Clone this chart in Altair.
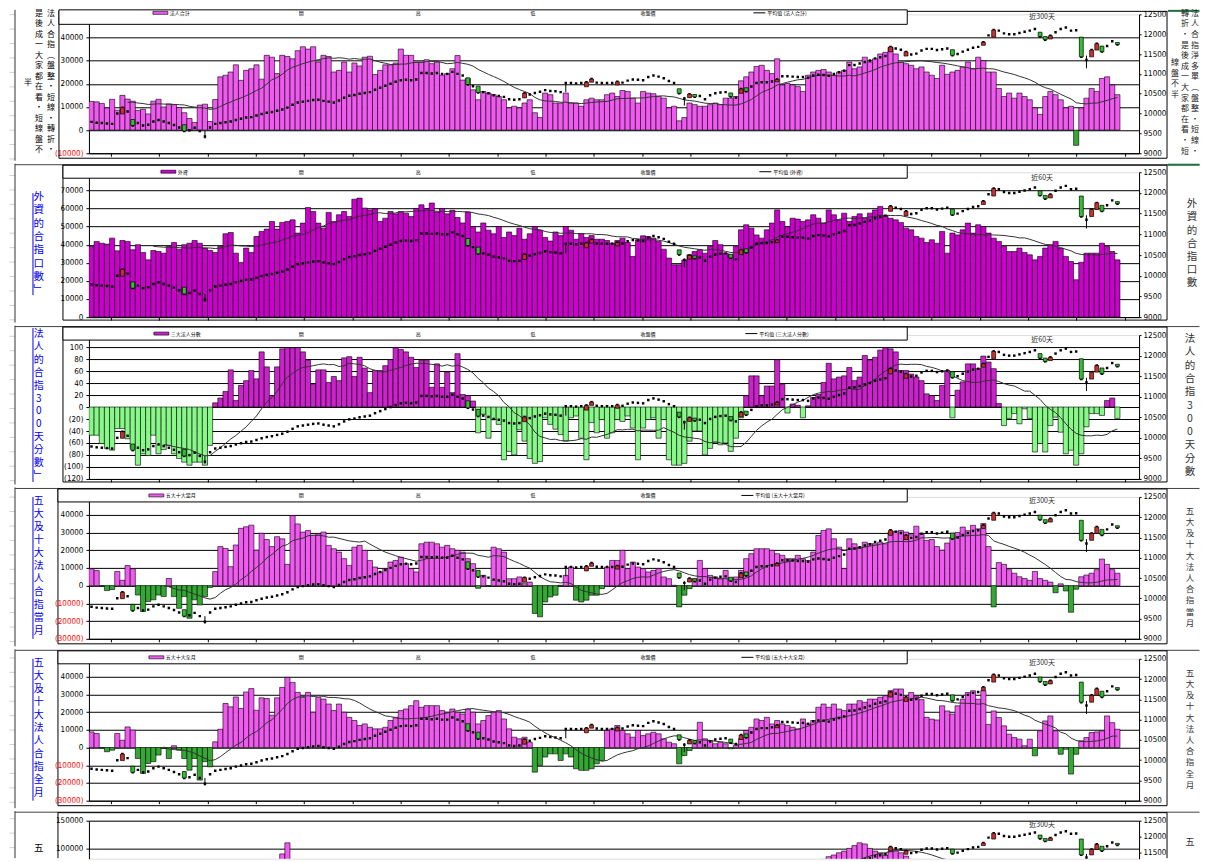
import altair as alt
import pandas as pd

N = 200
idx = list(range(N))

# ---- index candles (right axis, same in every panel) ----
index_close = [
    9790, 9770, 9760, 9750, 9740, 10000, 10150, 10050, 9700, 9760,
    9700, 9720, 9800, 9840, 9800, 9760, 9710, 9650, 9560, 9580,
    9640, 9560, 9420, 9650, 9740, 9760, 9780, 9800, 9840, 9870,
    9900, 9910, 9950, 9990, 10020, 10040, 10070, 10100, 10150, 10220,
    10280, 10300, 10320, 10340, 10350, 10320, 10300, 10280, 10330, 10400,
    10450, 10470, 10500, 10520, 10540, 10600, 10650, 10700, 10750, 10800,
    10840, 10850, 10840, 10860, 11020, 11020, 11010, 11020, 11000, 11000,
    11050, 11000, 10960, 10730, 10690, 10530, 10540, 10510, 10460, 10440,
    10420, 10360, 10350, 10360, 10510, 10480, 10520, 10550, 10590, 10570,
    10560, 10540, 10770, 10770, 10760, 10770, 10790, 10870, 10780, 10770,
    10770, 10770, 10800, 10780, 10830, 10860, 10850, 10840, 10920, 10960,
    10930, 10890, 10820, 10770, 10510, 10380, 10490, 10420, 10440, 10360,
    10460, 10510, 10530, 10540, 10430, 10400, 10620, 10560, 10680, 10770,
    10790, 10790, 10810, 10860, 10940, 10940, 10930, 10920, 10920, 10900,
    10960, 10980, 10970, 10950, 11000, 11040, 11080, 11220, 11226, 11260,
    11300, 11335, 11390, 11420, 11450, 11680, 11640, 11610, 11555, 11490,
    11510, 11590, 11630, 11630, 11600, 11620, 11640, 11470, 11500, 11560,
    11610, 11660, 11680, 11800, 11970, 12105, 12090, 12020, 12000, 12000,
    12030, 12060, 12090, 12130, 11940, 11860, 11960, 12050, 12130, 12170,
    12090, 12100, 11430, 11350, 11600, 11760, 11560, 11700, 11820, 11740,
]
big_idx = [6, 8, 18, 73, 75, 84, 96, 97, 102, 114, 116, 117, 124, 126, 127, 133,
           155, 158, 167, 173, 175, 184, 185, 186, 192, 194, 195, 196, 199]
big_open = [9990, 9850, 9720, 10900, 10690, 10395, 10675, 10790, 10720, 10625, 10400,
            10480, 10520, 10510, 10650, 10800, 11555, 11450, 11610, 11720, 11925, 12050,
            11940, 11880, 11925, 11430, 11600, 11700, 11790]
wick_idx = [22, 92, 115, 193]
wick_low = [9370, 10540, 10200, 11140]
wick_high = [9560, 10780, 10420, 11460]

# ---- panel bar series ----
p1 = [
    12400, 12200, 11500, 9600, 13300, 8600, 15000, 13400, 12500, 8500,
    9000, 7000, 12500, 13300, 10000, 11300, 11000, 9800, 7500, 5000,
    3300, 10800, 11200, 3700, 13200, 23000, 23700, 25100, 28200, 21500,
    25800, 26500, 28200, 22000, 32300, 31500, 24400, 32300, 31800, 30800,
    34300, 36000, 35000, 36000, 29400, 32300, 31800, 25100, 25800, 29400,
    25100, 29000, 27700, 31500, 31900, 24000, 25800, 28200, 28200, 29000,
    35000, 32300, 32300, 29400,
    29400, 30400, 28700, 29400, 23700, 24400, 26500, 32200, 21600, 22300,
    17400, 13100, 16700, 16000, 15300, 14500, 13100, 9600, 10300, 9600,
    11700, 13100, 7500, 5400, 16000, 15300, 11700, 11700, 16000, 11700,
    11700, 10300, 13100, 13800, 13100, 13100, 15300, 16000, 14500, 17100,
    16700, 13800, 11700, 16700, 16000, 15700, 14500, 13800, 9600, 10300,
    4000, 5400, 11700, 11000, 10300, 10300, 11000, 11700, 11000, 13800,
    13800, 14500, 21300, 23000, 25100, 27500, 28000, 25800, 24400, 30800,
    19500, 20200, 19500, 18800, 16700, 23700, 25100, 25800,
    26200, 25100, 23700, 25100, 25800, 29400, 26500, 27300, 31500, 29400,
    30800, 32900, 33600, 35700, 32900, 29400, 28700, 28000, 26500, 27300,
    25100, 23700, 22300, 28000, 24100, 25100, 25800, 27300, 29400, 26500,
    31500, 30000, 25100, 25100, 18000, 14500, 16000, 13800, 16000, 14500,
    13100, 9600, 6800, 14500, 16700, 15300, 13100, 9600, 10300, -6600,
    9600, 13800, 18000, 16700, 22300, 23000, 19500, 15300,
]
p2 = [
    39000, 41800, 40800, 40300, 43600, 36600, 42300, 41800, 37200, 40000,
    35700, 31600, 36800, 36200, 35300, 39000, 41200, 37500, 40000, 40800,
    42300, 40800, 38100, 36800, 35700, 39000, 46000, 46700, 35300, 30200,
    38100, 35700, 44500, 47300, 48600, 52800, 48600, 52300, 52800, 53700,
    46400, 51900, 60500, 58300, 51900, 49100, 57800, 52800, 56500, 58300,
    55600, 65100, 65700, 60200, 59200, 59800, 52800, 54600, 58300, 57000,
    58300, 57400, 55600, 60000,
    62000, 60000, 63000, 58000, 60000, 57000, 59000, 55000, 52000, 58000,
    50000, 47000, 52000, 48000, 46000, 50000, 44000, 47000, 45000, 49000,
    43000, 46000, 50000, 48000, 44000, 42000, 47000, 45000, 50000, 48000,
    43000, 46000, 44000, 45000, 43000,
    43000, 42300, 40800, 42300, 43600, 41200, 33500, 42700, 44900,
    44500, 43600, 41800, 37500, 32600, 28900, 28900, 31600, 34400, 36200,
    37200, 35300, 39000, 42300, 40000, 35300, 34400, 39000, 48200, 51000,
    49100, 45400, 43600, 48200, 51900, 59200, 52800, 50000, 54600, 54100,
    52800, 53700, 56500, 54600, 51900, 59200, 56500, 53700, 57400, 52800,
    55600, 57000, 54600, 57400, 59200, 61100, 56000, 54600, 53700,
    52300, 49100, 48200, 44500, 43600, 41200, 42700, 40800, 47300, 35300,
    46400, 45400, 48200, 51900, 46400, 51000, 50000, 46400, 43600, 41800,
    39000, 36200, 36200, 38100, 35700, 34400, 31600, 33500, 38100, 40000,
    41800, 38100, 33500, 30700, 20600, 30300, 35300, 35300, 35300,
    40800, 39000, 36200, 31600,
]
p3 = [
    -47, -47, -61, -69, -72, -36, -36, -53, -69, -97, -78, -81, -47, -78, -71, -64,
    -78, -86, -92, -97, -92, -92, -97, -64,
    7, 15, 26, 62, 11, 36, 44, 61, 47, 92, 67, 19, 67,
    97, 99, 99, 99, 92, 78, 38, 62, 62, 41, 51, 44, 82, 84, 51, 83, 65, 24, 61, 61,
    69, 79, 99, 96, 92, 83, 66, 78, 78, 33, 72, 33, 58, 24, 89, 21, 19, 10,
    -43, -12, -52, -21, -29, -88, -74, -80, -38, -57, -86, -94, -91, -18, -29, -37,
    -46, -57, -18, -15, -52, -88, -26, -43, -21, -52, -43, -21, -24, -15, -35, -88,
    -35, -21, -18, -52, -21, -88, -97, -97, -94, -57, -40, -40, -80, -69, -60, -63,
    -60, -74, -52, -18,
    19, 52, 52, 19, 35, 35, 79, 38,
    -10, 5, 3, -18, 2,
    16, 21, 41, 73, 47, 50, 52, 66, 44, 50, 86, 78, 83, 95, 99, 97, 92, 61, 61, 55, 50, 44,
    22, 19, 11, 36, 61, -18, 28, 42, 72, 72, 64, 85, 75, 64, 6, -31, -19, -11, -28, -3,
    -19, -75, -61, -75, -31, -17, -42, -78, -72, -97, -78, -33, -11, -11, -14, 11, 15, -19,
]
p4 = [
    9500, 8500, 0, -2800, -2200, 8000, 3000, 11300, 9500,
    -5300, -14600, -9000, -8000, -5300, -6200, 4000, -6200, -12800, -6200,
    -18400, -8000, -10900, -6200, -1000,
    7900, 22000, 21000, 10700, 22900, 32300, 33200, 34100, 20000, 29500, 26000, 22000, 27600,
    26400, 12000, 39500, 34800, 30200, 31100, 28300, 29200, 30200, 22700,
    20800, 18900, 15200, 11400, 21700, 22700, 19900, 14200, 10500, 7700,
    9600, 13300, 14200, 16100, 12400, 9600, 7700, 23600, 24500, 24500,
    23600, 21700, 22700, 20800, 19900, 18900, 15200, 12400, -1500, 5800,
    0, 21700, 20800, 18900, 3900, 3900, 4900, 1100, 2000, -15700,
    -17600, -9200, -6400, -5400, 200, 5800, 10500, -8200, -9200, -8200,
    -5400, -5400, -1700, 10500, 14200, 14200, 19900, 9600, 13300, 10500,
    9600, 7700, 8600, 9600, 4900, 3900, 200, -12000, -5400, -1700,
    3900, 14200, 9600, 5800, 4900, 3900, 8600, 4300, 4900, 8600,
    15200, 18000, 20800, 20800, 20800, 19900, 18000, 17100, 15200, 15200,
    17100, 15200, 14200, 18900, 28300, 31100, 32000, 26400, 21700, 9600,
    26400, 23600, 21700, 24500, 23600, 23600, 24500, 23600, 30200, 30600,
    31100, 30200, 28700, 33500, 29200, 25500,
    26000, 22000, 20000, 24000, 27000, 30000, 33000, 31000, 34000, 32000,
    35000, 22000, -12000, 13000, 12000, 9000, 7000, 5000, 4000, 3000,
    8000, 4000, 3000, 2000, -4000, 1000, -3000, -15000, -2000, 5000,
    6000, 7000, 9000, 15000, 12000, 9000, 7000,
]
p5 = [
    8800, 7900, 0, -2400, -1500, 7900, 4100, 11600, 9800,
    -6200, -14600, -9000, -8000, -4300, -600, -6200, 1000, -1500, -6200,
    -12800, -6200, -18400, -8000, -10900,
    3200, 10300, 24800, 22900, 28500, 22000, 31300, 33200, 21000, 28000, 27600, 18200, 28000,
    33900, 39500, 36700, 31100, 28300, 31100, 19900, 28300, 27300, 24500,
    20800, 24500, 19900, 17000, 15200, 12400, 13300, 11400, 10500, 10500,
    11400, 15200, 17000, 20800, 21700, 23600, 26400, 22700, 23600, 23600,
    23600, 20800, 19900, 21700, 19900, 18900, 21700, 19900, 13300, 15200,
    18000, 19900, 20800, 16100, 10500, 5800, 4900, 5800, 3000, -13900,
    -10100, -5400, -3600, -3600, -7300, -3600, -5400, -12000, -12900, -12900,
    -12000, -9200, -7300, 9600, 10500, 12400, 9600, 7700, 5800, 9600,
    6700, 7700, 8600, 7700, 4900, 3000, 2100, -9200, -4500, -1700,
    2100, 14200, 4900, 3900, 2100, 3000, 2100, -700, 1100, 4900,
    9600, 11400, 16100, 15200, 17000, 13300, 15200, 13300, 12400, 11400,
    10500, 16100, 13300, 15200, 22700, 24500, 22700, 24500, 21700, 20800,
    24500, 24500, 26400, 25500, 27300, 27300, 28300, 29200, 32000, 33000,
    33000,
    27000, 31000, 29000, 27000, 17000, 16000, 15500, 23500, 20600, 18800,
    23500, 27200, 31000, 32000, 27200, 32000, 13000, 20600, 16900, 12200,
    7500, 5600, 4700, 1000, 4700, -4700, 9400, 15000, 17800, 9400,
    -3800, -1000, -15000, -3800, 3800, 5600, 8400, 8800, 9400, 17800,
    14000, 10300,
]
p6 = [
    40000, 38000, 35000, 33000, 36000, 30000, 38000, 35000, 32000, 30000,
    28000, 25000, 30000, 33000, 28000, 30000, 27000, 25000, 22000, 20000,
    18000, 25000, 24000, 20000, 35000, 55000, 69000, 65000, 58000, 50000,
    48000, 52000, 55000, 62000, 60000, 55000, 58000, 90000, 110000, 78000,
    57000, 52000, 50000, 48000, 45000, 47000, 50000, 52000, 48000, 45000,
    42000, 40000, 38000, 36000, 40000, 45000, 42000, 40000, 38000, 35000,
    38000, 40000, 45000, 50000, 48000, 45000, 42000, 40000, 38000, 36000,
    33000, 30000, 28000, 25000, 22000, 20000, 22000, 25000, 28000, 30000,
    28000, 25000, 23000, 25000, 28000, 30000, 33000, 35000, 40000, 45000,
    48000, 52000, 55000, 58000, 60000, 62000, 58000, 55000, 50000, 45000,
    42000, 40000, 45000, 50000, 55000, 60000, 65000, 70000, 72000, 68000,
    65000, 58000, 50000, 42000, 35000, 30000, 32000, 35000, 38000, 40000,
    42000, 40000, 38000, 42000, 45000, 48000, 50000, 52000, 55000, 58000,
    55000, 58000, 60000, 62000, 60000, 58000, 55000, 58000, 62000, 65000,
    70000, 75000, 80000, 85000, 88000, 92000, 95000, 100000, 105000, 110000,
    108000, 100000, 95000, 92000, 88000, 95000, 97000, 92000, 86000, 80000,
    75000, 70000, 68000, 65000, 62000, 60000, 65000, 62000, 58000, 55000,
    58000, 62000, 65000, 60000, 55000, 48000, 45000, 42000, 40000, 38000,
    36000, 35000, 33000, 30000, 32000, 30000, 28000, 27000, 25000, 30000,
    20000, 45000, 62000, 68000, 65000, 55000, 50000, 48000, 45000, 40000,
]
for _s in (index_close, p1, p2, p3, p4, p5, p6):
    assert len(_s) == N, len(_s)

# ---- style constants ----
CJK = "Noto Sans CJK TC"
NUM = "Liberation Sans Narrow, DejaVu Sans Condensed, Liberation Sans"
X0 = 88
PLOT_W = 1051
XDOM = [-0.5, 203.2]
BLUE = "#0000EE"
PINK = "#F05AF0"
PURPLE = "#CC00CC"
DGREEN = "#33A833"
LGREEN = "#88F888"
CRED = "#C83030"
CGREEN = "#30C030"
x_ticks = [3.77 + 9.365 * k for k in range(22)]
R_TICKS = list(range(9000, 12501, 500))

one = pd.DataFrame({"z": [0]})


def hline(x1, x2, y, T, color, w=1.0):
    return alt.Chart(one).mark_rule(color=color, strokeWidth=w).encode(
        x=alt.value(x1 - X0), x2=alt.value(x2 - X0), y=alt.value(y - T))


def vline(x, y1, y2, T, color, w=1.0):
    return alt.Chart(one).mark_rule(color=color, strokeWidth=w).encode(
        x=alt.value(x - X0), y=alt.value(y1 - T), y2=alt.value(y2 - T))


def box(x1, y1, x2, y2, T, fill="white", op=1.0, stroke="black", w=1.0):
    return alt.Chart(one).mark_rect(fill=fill, fillOpacity=op, stroke=stroke, strokeWidth=w).encode(
        x=alt.value(x1 - X0), x2=alt.value(x2 - X0), y=alt.value(y1 - T), y2=alt.value(y2 - T))


def htext(txt, x, y, T, size, color="black", align="left", font=CJK):
    return alt.Chart(one).mark_text(text=txt, font=font, fontSize=size, align=align,
                                    baseline="middle", color=color).encode(
        x=alt.value(x - X0), y=alt.value(y - T))


def vtext(chars, x, ytop, T, size, lh, color):
    return alt.Chart(one).mark_text(text=list(chars), font=CJK, fontSize=size, lineHeight=lh,
                                    align="center", baseline="top", color=color).encode(
        x=alt.value(x - X0), y=alt.value(ytop - T))


rows_cfg = [
    dict(vals=p1, pos=PINK, neg=DGREEN, ydom=[-10000, 50000],
         yticks=[-10000, 0, 10000, 20000, 30000, 40000], neglab="#FF0000",
         rdom=[9000, 12500], rticks=R_TICKS, ma_start=7, T=13, H=139, P=8, Pn=160,
         objL=58, legend=True, box_top=8.5, leg_y=11.5, sw=152, name="法人合計",
         ma_x=753, tag="近300天", tag_y=16, xaxis=True,
         texts=[("法人合指︵盤整・短線・轉折・", 50, 8.5, 8, 10.5, "black"),
                ("是後成一大家都在看・短線盤不", 38, 8.5, 8, 10.5, "black"),
                ("半", 27, 78, 8, 10.5, "black"),
                ("法人合指淨多單︵盤整・短線・", 1195, 8.5, 8, 10.6, "#222222"),
                ("轉折・是後成一大家都在看・短", 1185, 8.5, 8, 10.6, "#222222"),
                ("線盤不半", 1175, 58, 8, 10.6, "#222222")],
         underline=None),
    dict(vals=p2, pos=PURPLE, neg=DGREEN, ydom=[0, 80000],
         yticks=[0, 10000, 20000, 30000, 40000, 50000, 60000, 70000], neglab="#FF0000",
         rdom=[9000, 12500], rticks=R_TICKS, ma_start=12, T=169, H=145, P=160, Pn=320,
         objL=62, legend=True, box_top=162, leg_y=168.5, sw=160, name="外資",
         ma_x=759, tag="近60天", tag_y=175, xaxis=True,
         texts=[("外資的合指口數﹂", 37.7, 189, 10.5, 13.3, BLUE),
                ("外資的合指口數", 1192, 196, 10.5, 13.2, "#333333")],
         underline=(190, 292)),
    dict(vals=p3, pos="#CC22CC", neg=LGREEN, ydom=[-120, 120],
         yticks=list(range(-120, 101, 20)), neglab="black",
         rdom=[9000, 12500], rticks=R_TICKS, ma_start=14, T=330, H=144, P=320, Pn=480,
         objL=62, legend=True, box_top=322, leg_y=328.5, sw=153, name="三大法人分數",
         ma_x=745, tag="近60天", tag_y=335, xaxis=True,
         texts=[("法人的合指300天分數﹂", 37.7, 324, 10, 12.9, BLUE),
                ("法人的合指300天分數", 1190, 329, 10.5, 13.3, "#333333")],
         underline=(323, 477)),
    dict(vals=p4, pos=PINK, neg=DGREEN, ydom=[-30000, 50000],
         yticks=list(range(-30000, 40001, 10000)), neglab="#FF0000",
         rdom=[9000, 12500], rticks=R_TICKS, ma_start=14, T=490, H=142, P=480, Pn=640,
         objL=57, legend=True, box_top=482, leg_y=488.5, sw=148, name="五大十大當月",
         ma_x=741, tag="近300天", tag_y=494, xaxis=True,
         texts=[("五大及十大法人合指當月", 37.7, 489, 10, 13, BLUE),
                ("五大及十大法人合指當月", 1190, 500, 8.5, 11.2, "#333333")],
         underline=(490, 632)),
    dict(vals=p5, pos=PINK, neg=DGREEN, ydom=[-30000, 50000],
         yticks=list(range(-30000, 40001, 10000)), neglab="#FF0000",
         rdom=[9000, 12500], rticks=R_TICKS, ma_start=14, T=650, H=142, P=640, Pn=800,
         objL=57, legend=True, box_top=642, leg_y=648.5, sw=148, name="五大十大全月",
         ma_x=741, tag="近300天", tag_y=654, xaxis=True,
         texts=[("五大及十大法人合指全月", 37.7, 649, 10, 13, BLUE),
                ("五大及十大法人合指全月", 1190, 660, 8.5, 11.2, "#333333")],
         underline=(650, 792)),
    dict(vals=p6, pos=PINK, neg=DGREEN, ydom=[81408, 150000],
         yticks=[100000, 150000], neglab="#FF0000",
         rdom=[11312.5, 12500], rticks=[11500, 12000, 12500], ma_start=14, T=810, H=38,
         P=800, Pn=848, objL=57, legend=False, tag="近300天", tag_y=814, xaxis=False,
         texts=[("五", 37.7, 832, 9.5, 11.7, "black"),
                ("五", 1190, 827, 9, 11.2, "#333333")],
         underline=None),
]


def make_row(r):
    T, H, P, Pn = r["T"], r["H"], r["P"], r["Pn"]
    df = pd.DataFrame({"i": idx, "v": r["vals"]})
    cdf = pd.DataFrame({"i": idx, "c": index_close})
    bdf = pd.DataFrame({"i": big_idx, "o": big_open, "c": [index_close[k] for k in big_idx]})
    wdf = pd.DataFrame({"i": wick_idx, "lo": wick_low, "hi": wick_high})

    xs = alt.Scale(domain=XDOM, nice=False, zero=False)
    ys = alt.Scale(domain=r["ydom"], nice=False, zero=False)
    rs = alt.Scale(domain=r["rdom"], nice=False, zero=False)

    if r["xaxis"]:
        xaxis = alt.Axis(values=x_ticks, labels=False, title=None, grid=False, ticks=True,
                         tickSize=3, tickColor="black", domainColor="black",
                         minExtent=0, maxExtent=10)
    else:
        xaxis = None
    yaxis = alt.Axis(orient="left", values=r["yticks"], title=None, grid=True,
                     gridColor="black", gridWidth=1, gridOpacity=1,
                     domainColor="black", tickColor="black", tickSize=3,
                     labelFont=NUM, labelFontSize=8, labelPadding=3, labelOverlap=False,
                     labelColor={"condition": {"test": "datum.value < 0", "value": r["neglab"]},
                                 "value": "black"},
                     labelExpr="datum.value < 0 ? '(' + (-datum.value) + ')' : '' + datum.value",
                     minExtent=0, maxExtent=40)
    raxis = alt.Axis(orient="right", values=r["rticks"], title=None, grid=False,
                     domainColor="black", tickColor="black", tickSize=2,
                     labelFont=NUM, labelFontSize=8, labelPadding=2, labelOverlap=False,
                     labelColor="black", labelExpr="'' + datum.value",
                     minExtent=0, maxExtent=40)

    bars = alt.Chart(df).transform_calculate(
        xa="datum.i - 0.5", xb="datum.i + 0.5"
    ).mark_bar(stroke="black", strokeWidth=0.6, clip=True).encode(
        x=alt.X("xa:Q", scale=xs, axis=xaxis),
        x2="xb:Q",
        y=alt.Y("v:Q", scale=ys, axis=yaxis),
        y2=alt.datum(0),
        fill=alt.condition("datum.v >= 0", alt.value(r["pos"]), alt.value(r["neg"])),
    )
    ma = alt.Chart(df).transform_window(
        ma="mean(v)", frame=[-14, 0], sort=[alt.SortField("i")]
    ).transform_filter(f"datum.i >= {r['ma_start']}").mark_line(
        color="#333333", strokeWidth=1, clip=True
    ).encode(
        x=alt.X("i:Q", scale=xs, axis=xaxis),
        y=alt.Y("ma:Q", scale=ys, axis=yaxis),
    )
    sq = alt.Chart(cdf).mark_square(size=6, color="black", opacity=1, clip=True).encode(
        x=alt.X("i:Q", scale=xs, axis=xaxis),
        y=alt.Y("c:Q", scale=rs, axis=raxis),
    )
    wick = alt.Chart(wdf).mark_rule(color="black", strokeWidth=1, clip=True).encode(
        x=alt.X("i:Q", scale=xs, axis=xaxis),
        y=alt.Y("lo:Q", scale=rs, axis=raxis),
        y2="hi:Q",
    )
    body = alt.Chart(bdf).transform_calculate(
        xa="datum.i - 0.38", xb="datum.i + 0.38"
    ).mark_bar(stroke="black", strokeWidth=0.7, clip=True).encode(
        x=alt.X("xa:Q", scale=xs, axis=xaxis),
        x2="xb:Q",
        y=alt.Y("o:Q", scale=rs, axis=raxis),
        y2="c:Q",
        fill=alt.condition("datum.c > datum.o", alt.value(CRED), alt.value(CGREEN)),
    )

    left = alt.layer(bars, ma)
    right = alt.layer(sq, wick, body)

    back = []
    # spreadsheet cell lines on the far left
    for j in range(70):
        yy = 13.3 + 14.45 * j
        if P + 1 <= yy <= Pn - 1:
            back.append(hline(8.5, 14, yy, T, "#D0D0D0"))

    front = []
    # column border of the sheet (also fixes the row's vertical extent)
    front.append(vline(14, P + 0.5, Pn - 0.5, T, "#303030"))
    if P > 8:
        front.append(hline(14, 1199.5, P + 1.5, T, "#404040"))
    # chart object border
    obj_bottom = Pn - 3 if r["legend"] else Pn - 0.5
    front.append(vline(r["objL"], max(P + 1.5, 8.5), obj_bottom, T, "black"))
    front.append(vline(1167, max(P + 1.5, 8.5), obj_bottom, T, "black"))
    front.append(hline(r["objL"], 1167, max(P + 2, 8.5), T, "black"))
    if r["legend"]:
        front.append(hline(r["objL"], 1167, obj_bottom, T, "black"))
    # green selection marks on the right cells of the first two rows
    if P < 300:
        front.append(hline(1168, 1199.5, max(P + 1.5, 9), T, "#1E7145", 2))
    # legend box
    if r["legend"]:
        bt = r["box_top"]
        ly = r["leg_y"]
        front.append(box(r["objL"], bt, 907, P + 15, T))
        front.append(box(r["sw"], ly - 1.5, r["sw"] + 15, ly + 1.5, T, fill=r["pos"], w=0.6))
        front.append(htext(r["name"], r["sw"] + 17, ly, T, 5))
        for t, xx in (("開", 298), ("高", 415), ("低", 530), ("收盤價", 640)):
            front.append(htext(t, xx, ly, T, 5))
        front.append(hline(r["ma_x"], r["ma_x"] + 12, ly, T, "black", 1))
        front.append(htext("平均值 (" + r["name"] + ")", r["ma_x"] + 14, ly, T, 5))
    # "近N天" tag inside plot
    front.append(htext(r["tag"], 1042, r["tag_y"], T, 7, "#303030", "center"))
    # vertical captions
    for chars, x, ytop, size, lh, color in r["texts"]:
        front.append(vtext(chars, x, ytop, T, size, lh, color))
    if r["underline"]:
        a, b = r["underline"]
        front.append(vline(32, a, b, T, BLUE))

    return alt.layer(*back, left, right, *front).resolve_scale(y="independent").properties(
        width=PLOT_W, height=H)


rows = [make_row(r) for r in rows_cfg]

chart = alt.vconcat(*rows, spacing=0).properties(padding=0).configure_view(
    fill="#C0C0C0", strokeWidth=0
).configure(font="Liberation Sans")

chart.save("out.html", embed_options={"renderer": "svg", "actions": False})
